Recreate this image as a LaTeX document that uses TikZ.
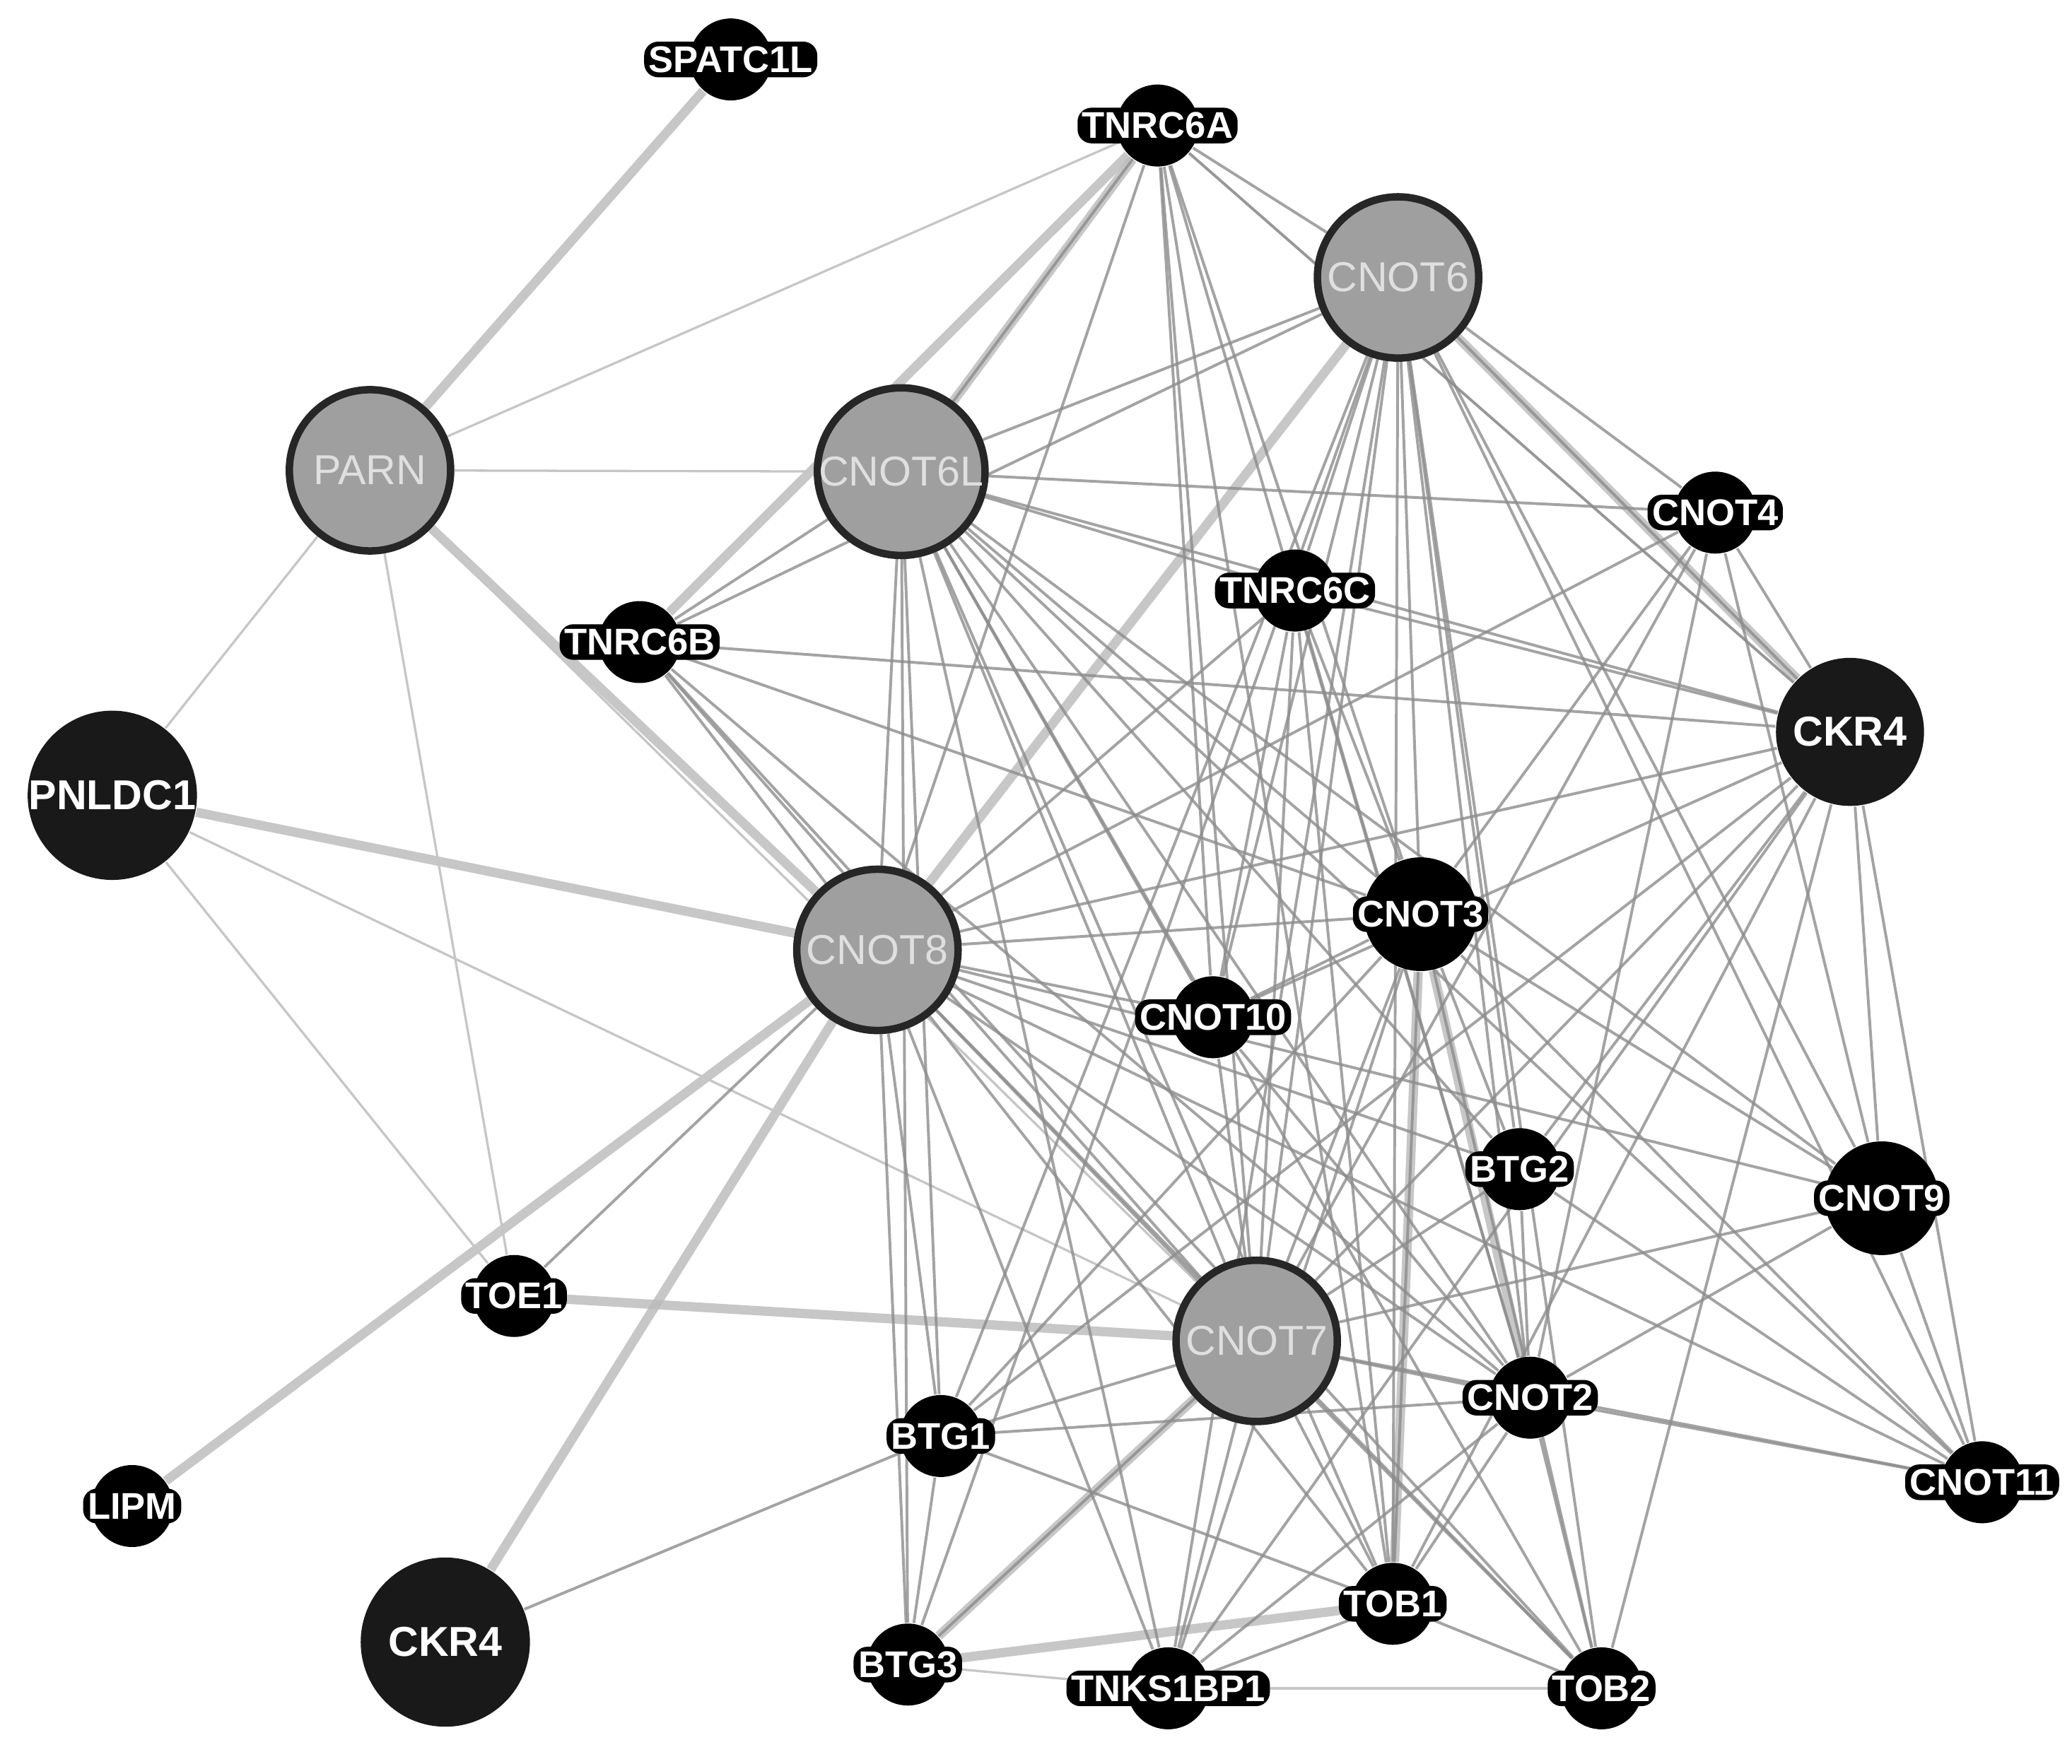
\documentclass[tikz,border=0pt]{standalone}
\usepackage{fontspec}
\setmainfont{Liberation Sans}
\usetikzlibrary{backgrounds}
\begin{document}
\begin{tikzpicture}[x=0.01cm,y=-0.01cm]
		% définition des styles
		\tikzstyle{gros}=[circle,draw=black!85,line width=1.6pt,fill=gray!75,minimum size=1.22cm,inner sep=0pt,text=gray!25,font=\small]
		\tikzstyle{noir}=[circle,fill=black!90,minimum size=1.12cm,inner sep=0pt,text=white,font=\small\bfseries]
		\tikzstyle{petit}=[circle,fill=black,minimum size=0.62cm,inner sep=0pt]
		\tikzstyle{moyen}=[circle,fill=black,minimum size=0.86cm,inner sep=0pt]
		\tikzstyle{etiq}=[fill=black,rounded corners=3pt,inner sep=1pt,text=white,font=\footnotesize\bfseries]
		\tikzstyle{lien}=[draw=gray!90,line width=0.6pt,opacity=0.8]
		\tikzstyle{fort}=[draw=gray!55,line width=2pt,opacity=0.8]
		\tikzstyle{fin}=[draw=gray!45,line width=0.5pt]
		\useasboundingbox (0,0) rectangle (1568,1335);
		% les nœuds
		\node[petit] (spatc1l) at (553,45) {};
		\node[petit] (tnrc6a) at (876,95) {};
		\node[petit] (cnot4) at (1298,388) {};
		\node[petit] (tnrc6c) at (980,447) {};
		\node[petit] (tnrc6b) at (484,486) {};
		\node[moyen] (cnot3) at (1075,692) {};
		\node[petit] (cnot10) at (918,770) {};
		\node[petit] (btg2) at (1150,885) {};
		\node[moyen] (cnot9) at (1424,907) {};
		\node[petit] (toe1) at (389,981) {};
		\node[petit] (cnot2) at (1158,1058) {};
		\node[petit] (btg1) at (712,1087) {};
		\node[petit] (cnot11) at (1500,1122) {};
		\node[petit] (lipm) at (100,1140) {};
		\node[petit] (tob1) at (1054,1214) {};
		\node[petit] (btg3) at (687,1260) {};
		\node[petit] (tnks1bp1) at (884,1278) {};
		\node[petit] (tob2) at (1212,1278) {};
		\node[noir] (ckr4a) at (1400,554) {CKR4};
		\node[noir,minimum size=1.26cm] (pnldc1) at (85,602) {PNLDC1};
		\node[noir,minimum size=1.28cm] (ckr4b) at (337,1243) {CKR4};
		\node[gros] (cnot6) at (1058,210) {CNOT6};
		\node[gros] (parn) at (280,356) {PARN};
		\node[gros] (cnot6l) at (682,357) {CNOT6L};
		\node[gros] (cnot8) at (664,719) {CNOT8};
		\node[gros] (cnot7) at (951,1015) {CNOT7};
		% les étiquettes
		\foreach \n/\t in {spatc1l/SPATC1L,tnrc6a/TNRC6A,cnot4/CNOT4,tnrc6c/TNRC6C,tnrc6b/TNRC6B,cnot3/CNOT3,cnot10/CNOT10,btg2/BTG2,cnot9/CNOT9,toe1/TOE1,cnot2/CNOT2,btg1/BTG1,cnot11/CNOT11,lipm/LIPM,tob1/TOB1,btg3/BTG3,tnks1bp1/TNKS1BP1,tob2/TOB2}
			{\node[etiq] at (\n) {\t};}
		% les liens
		\begin{scope}[on background layer]
		\foreach \a/\b in {spatc1l/parn,tnrc6a/cnot6l,tnrc6a/tnrc6b,parn/cnot8,cnot8/cnot6,lipm/cnot8,ckr4b/cnot8,cnot3/cnot2,cnot3/tob1,cnot7/btg3,btg3/tob1,pnldc1/cnot8,cnot6/ckr4a,toe1/cnot7}
			{\path[fort] (\a) -- (\b);}
		\foreach \a/\b in {parn/tnrc6a,parn/pnldc1,parn/toe1,parn/cnot7,pnldc1/toe1,pnldc1/cnot7,parn/cnot6l,tnrc6a/ckr4a,btg3/tnks1bp1,tnks1bp1/tob2}
			{\path[fin] (\a) -- (\b);}
		\foreach \a in {cnot6,cnot6l,cnot8,cnot7}
			\foreach \b in {tnrc6a,cnot4,tnrc6c,tnrc6b,ckr4a,cnot3,cnot10,btg2,cnot9,cnot2,btg1,cnot11,tob1,tnks1bp1,tob2,btg3}
				{\path[lien] (\a) -- (\b);}
		\foreach \a/\b in {cnot6/cnot6l,cnot6/cnot7,cnot6l/cnot8,cnot6l/cnot7,cnot8/cnot7,toe1/cnot8,ckr4b/btg1}
			{\path[lien] (\a) -- (\b);}
		\foreach \a in {ckr4a,cnot3,cnot2}
			\foreach \b in {tnrc6a,cnot4,tnrc6c,tnrc6b,cnot10,btg2,cnot9,cnot11,tob1,tnks1bp1,tob2,btg1}
				{\path[lien] (\a) -- (\b);}
		\foreach \a/\b in {tnrc6a/cnot10,tnrc6a/tob1,tnrc6c/tob1,tnrc6c/cnot10,tnrc6b/tob2,cnot9/cnot11,btg1/tob1,btg1/btg3,tob1/tob2,tob1/tnks1bp1,cnot4/cnot9,btg2/cnot11}
			{\path[lien] (\a) -- (\b);}
		\end{scope}
	\end{tikzpicture}
\end{document}
